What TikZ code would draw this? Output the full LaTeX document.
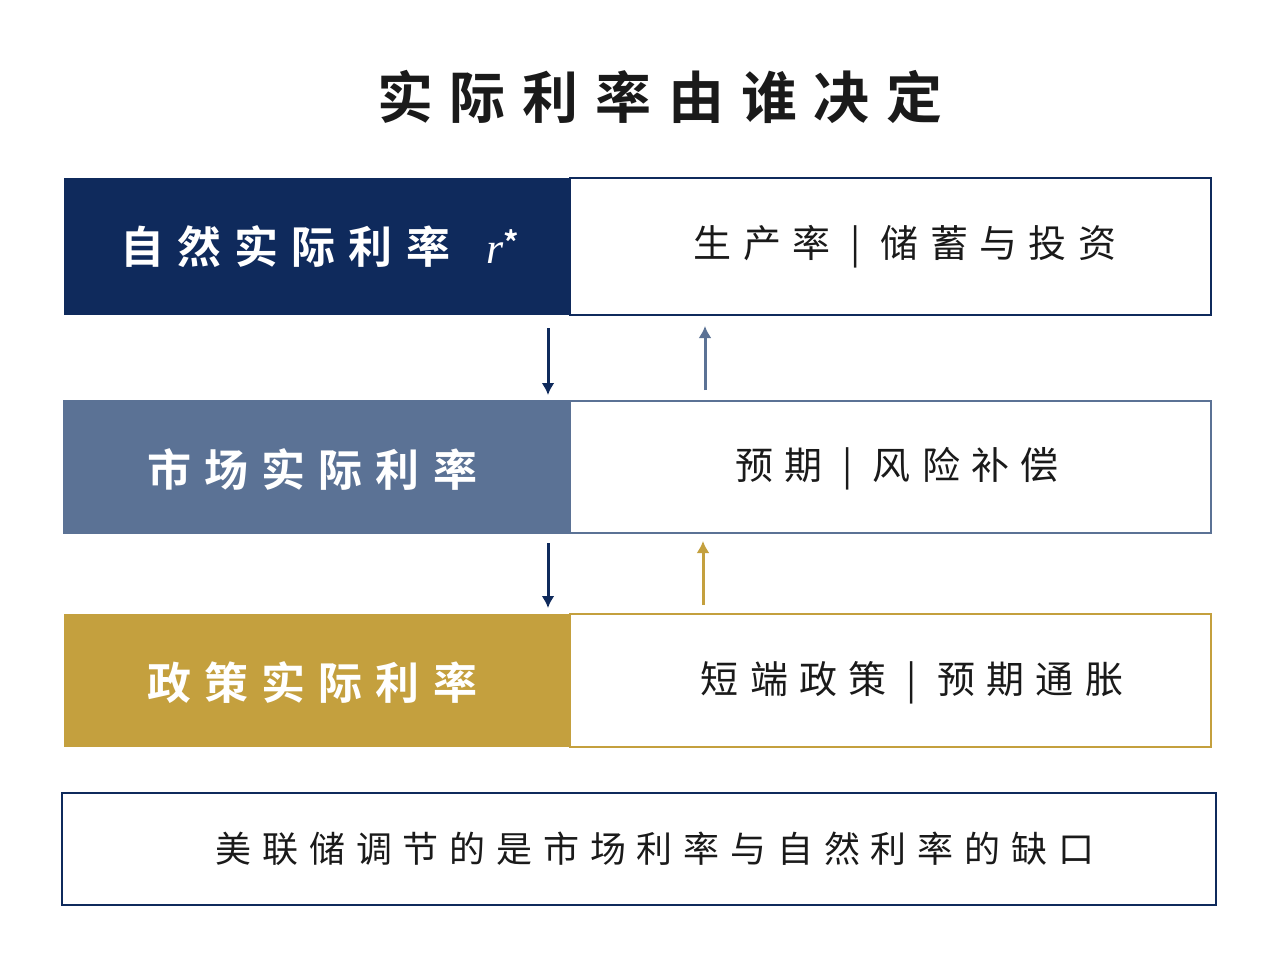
\documentclass[tikz,border=0pt]{standalone}
\usepackage{fontspec}
\newfontfamily\cjk[LetterSpace=30]{Noto Sans CJK SC}
\newfontfamily\cjkb[LetterSpace=30]{Noto Sans CJK SC Bold}
\definecolor{navy}{HTML}{0F2A5C}
\definecolor{steel}{HTML}{5B7295}
\definecolor{gold}{HTML}{C4A03E}
\definecolor{ink}{HTML}{1A1A1A}
\begin{document}
\begin{tikzpicture}[x=1pt,y=-1pt,
  lbox/.style={minimum height=#1,inner sep=0},
  arr/.style={line width=3pt,-{Latex[length=12pt,width=13pt]}},
  txt/.style={font=\cjk\fontsize{38}{40}\selectfont,text=ink}]
\usetikzlibrary{arrows.meta}
\useasboundingbox[fill=white] (0,0) rectangle (1280,960);
\node[font=\cjkb\fontsize{56}{60}\selectfont,text=ink] (title) at (660,97) {实际利率由谁决定};
% row 1
\draw[navy,line width=2pt,fill=white] (570,178) rectangle (1211,315);
\fill[navy] (64,178) rectangle (570,315);
\node[font=\cjkb\fontsize{44}{48}\selectfont,text=white] (l1) at (320,247) {自然实际利率 \textit{\fontspec{Liberation Serif}r}\textsuperscript{*}};
\node[txt] (r1) at (905,247) {生产率 | 储蓄与投资};
% row 2
\draw[steel,line width=2pt,fill=white] (570,401) rectangle (1211,533);
\fill[steel] (64,401) rectangle (570,533);
\draw[steel,line width=2pt] (64,401) rectangle (1211,533);
\node[font=\cjkb\fontsize{44}{48}\selectfont,text=white] (l2) at (312,469) {市场实际利率};
\node[txt] (r2) at (897,469) {预期 | 风险补偿};
% row 3
\draw[gold,line width=2pt,fill=white] (570,614) rectangle (1211,747);
\fill[gold] (64,614) rectangle (570,747);
\node[font=\cjkb\fontsize{44}{48}\selectfont,text=white] (l3) at (312,683) {政策实际利率};
\node[txt] (r3) at (912,683) {短端政策 | 预期通胀};
% arrows
\coordinate (a1s) at (548,328); \coordinate (a1e) at (548,395);
\coordinate (b1s) at (705,390); \coordinate (b1e) at (705,326);
\coordinate (a2s) at (548,543); \coordinate (a2e) at (548,608);
\coordinate (b2s) at (703,605); \coordinate (b2e) at (703,541);
\draw[arr,navy] (a1s) -- (a1e);
\draw[arr,steel] (b1s) -- (b1e);
\draw[arr,navy] (a2s) -- (a2e);
\draw[arr,gold] (b2s) -- (b2e);
% bottom
\draw[navy,line width=2pt] (62,793) rectangle (1216,905);
\node[font=\cjk\fontsize{36}{40}\selectfont,text=ink] (bot) at (655,849) {美联储调节的是市场利率与自然利率的缺口};
\end{tikzpicture}
\end{document}
